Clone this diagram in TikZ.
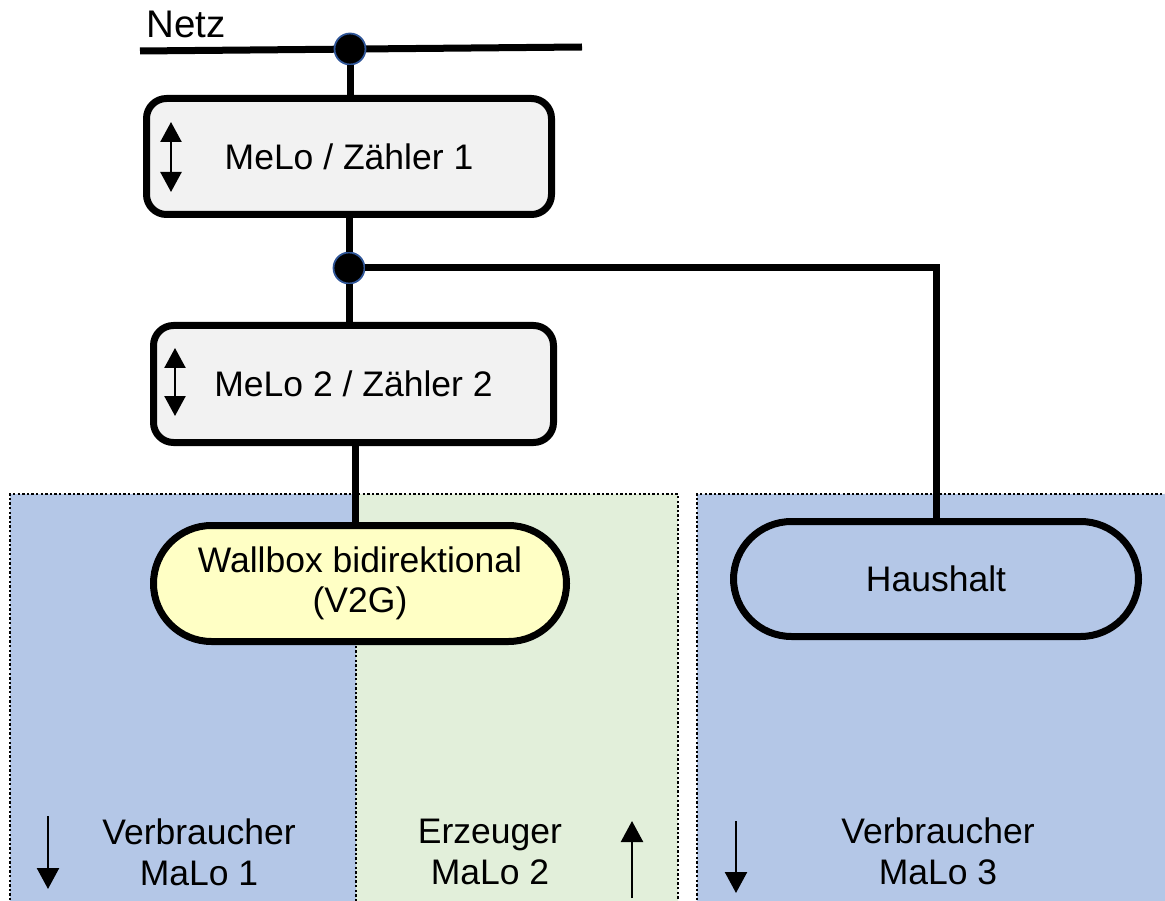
\documentclass[tikz,border=0pt]{standalone}
\usepackage{fontspec}
\setmainfont{Liberation Sans}
\usetikzlibrary{arrows.meta,calc}
\definecolor{zoneblue}{HTML}{B4C7E7}
\definecolor{zonegreen}{HTML}{E2EFDA}
\definecolor{boxgray}{HTML}{F2F2F2}
\definecolor{wallyellow}{HTML}{FFFFC5}
\definecolor{dotrim}{HTML}{2F5597}
\tikzset{
  wire/.style={line width=7pt},
  meterbox/.style={draw, line width=7pt, fill=boxgray, rounded corners=20pt,
    inner sep=0pt, font=\fontsize{35.5}{40}\selectfont},
  pill/.style={draw, line width=7pt, rounded corners=58pt, inner sep=0pt,
    align=center, font=\fontsize{35.5}{40}\selectfont},
  zone/.style={line width=2.4pt, dash pattern=on 2.4pt off 2.2pt},
  junction/.style={circle, fill=black, draw=dotrim, line width=1.8pt, inner sep=0pt, minimum size=31pt},
  flow/.style={line width=2.4pt, -{Triangle[width=22pt,length=21pt]}},
  bothflow/.style={line width=2.4pt, {Triangle[width=21pt,length=20pt]}-{Triangle[width=21pt,length=20pt]}},
  zonelabel/.style={align=center, font=\fontsize{35.5}{41}\selectfont}
}
\begin{document}
\begin{tikzpicture}[x=1pt,y=-1pt]
\useasboundingbox (0,0) rectangle (1165,901);

% market-location zones
\fill[zoneblue] (10,494) rectangle (356,905);
\fill[zonegreen] (356,494) rectangle (678,905);
\fill[zoneblue] (697,494) rectangle (1170,905);
\draw[zone] (10,905) -- (10,494) -- (678,494) -- (678,905);
\draw[zone] (356,494) -- (356,905);
\draw[zone] (697,905) -- (697,494) -- (1170,494);

% grid line with connection point
\coordinate (netzL) at (140,51);
\coordinate (netzR) at (582,47);
\draw[wire] (netzL) -- (netzR);
\node[anchor=base west, font=\fontsize{38.5}{40}\selectfont] (netz) at (143,38) {Netz};

% meters and consumers
\node[meterbox, minimum width=405pt, minimum height=116pt] (box1) at (349,156.5) {MeLo / Zähler 1};
\node[meterbox, minimum width=400pt, minimum height=117pt] (box2) at (353.5,384) {MeLo 2 / Zähler 2};
\node[pill, fill=wallyellow, minimum width=413pt, minimum height=116pt] (wall) at (360,583.5)
  {Wallbox bidirektional\\(V2G)};
\node[pill, fill=zoneblue, minimum width=405pt, minimum height=115pt] (haus) at (936,579) {Haushalt};

\node[junction] (dot1) at (350,49) {};
\node[junction] (dot2) at (349,268) {};

% connections
\draw[wire] (dot1) -- (dot1 |- box1.north);
\draw[wire] (box1.south -| dot2) -- (dot2);
\draw[wire] (dot2) -- (dot2 |- box2.north);
\draw[wire] (dot2) -| (haus.north);
\draw[wire] (box2.south -| 355,0) -- (wall.north -| 355,0);

% bidirectional meter symbols
\draw[bothflow] (171,122) -- (171,192);
\draw[bothflow] (175,348) -- (175,416);

% zone labels with energy direction
\node[zonelabel] (z1) at (199,852) {Verbraucher\\MaLo 1};
\node[zonelabel] (z2) at (490,852) {Erzeuger\\MaLo 2};
\node[zonelabel] (z3) at (938,851) {Verbraucher\\MaLo 3};
\draw[flow] (48,816) -- (48,889);
\draw[flow] (632,898) -- (632,821);
\draw[flow] (736,821) -- (736,893);
\end{tikzpicture}
\end{document}
